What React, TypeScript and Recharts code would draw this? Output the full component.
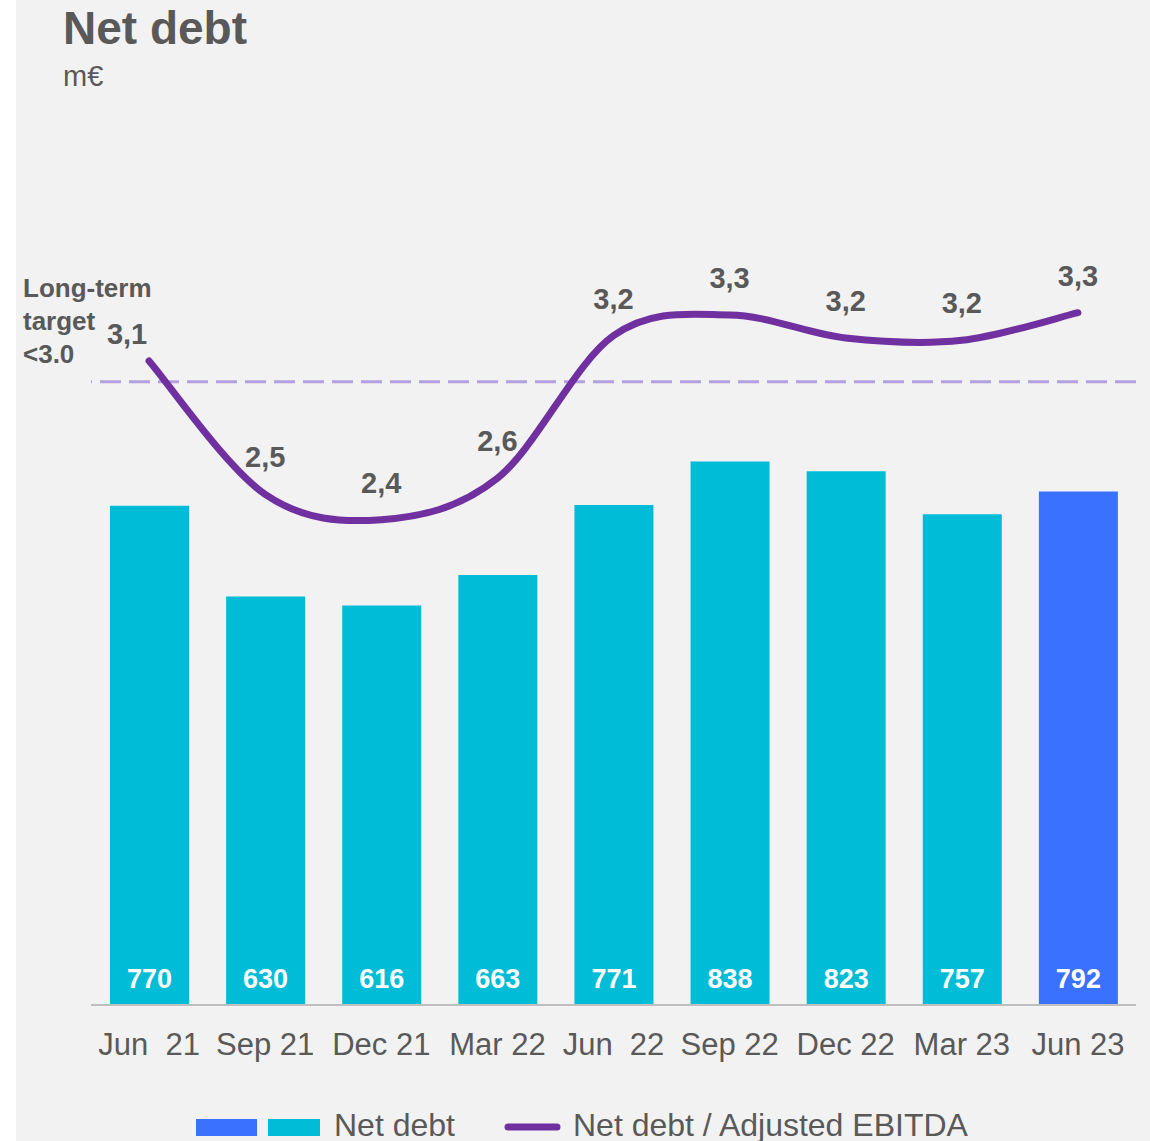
import React from 'react';
import { ComposedChart, Bar, Line, XAxis, YAxis, Cell, LabelList, ReferenceLine } from 'recharts';

const categories = ['Jun  21', 'Sep 21', 'Dec 21', 'Mar 22', 'Jun  22', 'Sep 22', 'Dec 22', 'Mar 23', 'Jun 23'];
const netDebt = [770, 630, 616, 663, 771, 838, 823, 757, 792];
const ratio = [3.09, 2.51, 2.4, 2.58, 3.2, 3.29, 3.19, 3.18, 3.3];
const targetRatio = 3.0;

const data = categories.map((c, i) => ({ cat: c, debt: netDebt[i], ratio: ratio[i] }));

const FONT = '"Liberation Sans", Arial, sans-serif';
const TEXT = '#595959';
const CYAN = '#00BCD6';
const BLUE = '#3A72FF';
const PURPLE = '#7030A0';

// Excel-like smoothing (Catmull-Rom converted to Bezier)
const smoothCurve: any = (context: any) => {
  let pts: [number, number][] = [];
  return {
    areaStart() {},
    areaEnd() {},
    lineStart() {
      pts = [];
    },
    lineEnd() {
      const n = pts.length;
      if (!n) return;
      context.moveTo(pts[0][0], pts[0][1]);
      for (let i = 0; i < n - 1; i++) {
        const p0 = pts[i - 1] || pts[i];
        const p1 = pts[i];
        const p2 = pts[i + 1];
        const p3 = pts[i + 2] || pts[i + 1];
        context.bezierCurveTo(
          p1[0] + (p2[0] - p0[0]) / 6,
          p1[1] + (p2[1] - p0[1]) / 6,
          p2[0] - (p3[0] - p1[0]) / 6,
          p2[1] - (p3[1] - p1[1]) / 6,
          p2[0],
          p2[1]
        );
      }
    },
    point(x: number, y: number) {
      pts.push([+x, +y]);
    },
  };
};

const XTick = (props: any) => {
  const { x, y, payload } = props;
  return (
    <text
      x={x}
      y={y + 50}
      textAnchor="middle"
      fill={TEXT}
      fontSize={31}
      fontFamily={FONT}
      style={{ whiteSpace: 'pre' }}
    >
      {payload.value}
    </text>
  );
};

const BarLabel = (props: any) => {
  const { x, y, width, height, value } = props;
  return (
    <text
      x={x + width / 2}
      y={y + height - 17}
      textAnchor="middle"
      fill="#FFFFFF"
      fontSize={27}
      fontWeight="bold"
      fontFamily={FONT}
    >
      {value}
    </text>
  );
};

const LineLabel = (props: any) => {
  const { x, y, value, index } = props;
  const first = index === 0;
  return (
    <text
      x={x + (first ? -22 : 0)}
      y={y - (first ? 17 : 27)}
      textAnchor="middle"
      fill={TEXT}
      fontSize={29}
      fontWeight="bold"
      fontFamily={FONT}
    >
      {Number(value).toFixed(1).replace('.', ',')}
    </text>
  );
};

export default function App() {
  return (
    <div style={{ position: 'absolute', left: 0, top: 0, width: 1150, height: 1141, background: '#FFFFFF', overflow: 'hidden' }}>
      <div style={{ position: 'absolute', left: 16, top: 0, width: 1134, height: 1141, background: '#F2F2F2' }} />
      <svg width={1150} height={1141} style={{ position: 'absolute', left: 0, top: 0 }}>
        <text x={63} y={44} fill={TEXT} fontSize={46} fontWeight="bold" fontFamily={FONT}>Net debt</text>
        <text x={63} y={86} fill={TEXT} fontSize={29} fontFamily={FONT}>m€</text>
        <text x={23} y={297} fill={TEXT} fontSize={26} fontWeight="bold" fontFamily={FONT}>Long-term</text>
        <text x={23} y={330} fill={TEXT} fontSize={26} fontWeight="bold" fontFamily={FONT}>target</text>
        <text x={23} y={363} fill={TEXT} fontSize={26} fontWeight="bold" fontFamily={FONT}>&lt;3.0</text>
        <rect x={196} y={1119} width={61} height={17} fill={BLUE} />
        <rect x={268} y={1119} width={52} height={17} fill={CYAN} />
        <text x={334} y={1136} fill={TEXT} fontSize={32} fontFamily={FONT}>Net debt</text>
        <line x1={508} y1={1127} x2={557} y2={1127} stroke={PURPLE} strokeWidth={7} strokeLinecap="round" />
        <text x={573} y={1136} fill={TEXT} fontSize={32} fontFamily={FONT}>Net debt / Adjusted EBITDA</text>
      </svg>
      <div style={{ position: 'absolute', left: 0, top: 0 }}>
        <ComposedChart
          width={1150}
          height={1141}
          data={data}
          margin={{ top: 223, right: 14, left: 91, bottom: 76 }}
        >
          <XAxis
            dataKey="cat"
            height={60}
            interval={0}
            tickLine={false}
            tickSize={0}
            tickMargin={0}
            axisLine={{ stroke: '#BFBFBF', strokeWidth: 2 }}
            tick={<XTick />}
          />
          <YAxis yAxisId="left" hide domain={[0, 1206]} />
          <YAxis yAxisId="right" hide orientation="right" domain={[0.29, 3.69]} allowDataOverflow />
          <Bar yAxisId="left" dataKey="debt" barSize={79} isAnimationActive={false}>
            {data.map((d, i) => (
              <Cell key={d.cat} fill={i === data.length - 1 ? BLUE : CYAN} />
            ))}
            <LabelList dataKey="debt" content={<BarLabel />} />
          </Bar>
          <ReferenceLine
            yAxisId="right"
            y={targetRatio}
            stroke="#B4A0E0"
            strokeWidth={3}
            strokeDasharray="21 8"
          />
          <Line
            yAxisId="right"
            dataKey="ratio"
            type={smoothCurve}
            stroke={PURPLE}
            strokeWidth={7}
            strokeLinecap="round"
            dot={false}
            activeDot={false}
            isAnimationActive={false}
          >
            <LabelList dataKey="ratio" content={<LineLabel />} />
          </Line>
        </ComposedChart>
      </div>
    </div>
  );
}
